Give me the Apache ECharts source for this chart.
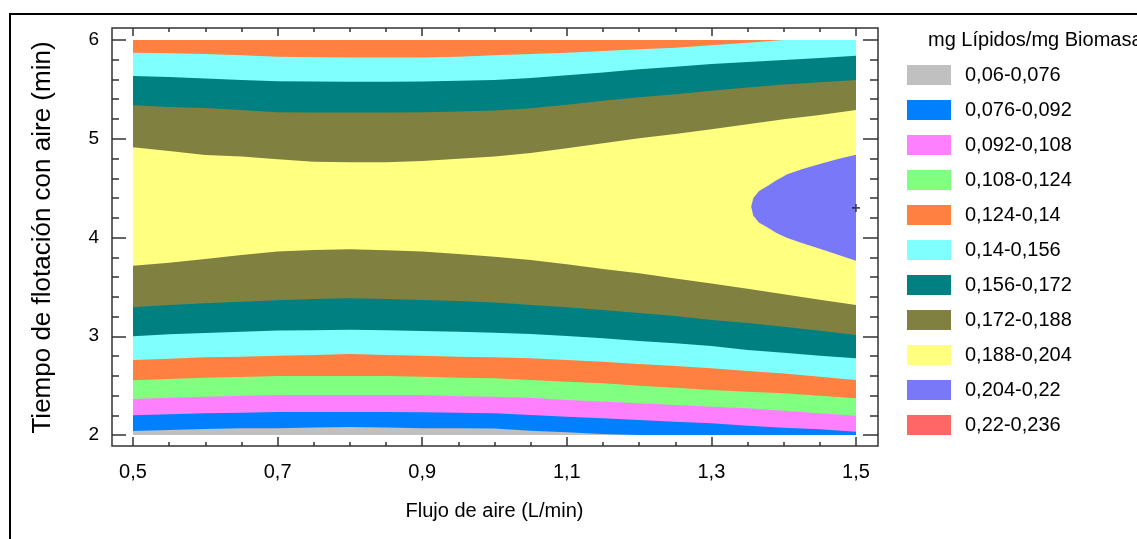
<!DOCTYPE html>
<html>
<head>
<meta charset="utf-8">
<script src="https://cdn.jsdelivr.net/npm/echarts@6/dist/echarts.min.js"></script>
<style>
  html, body { margin: 0; padding: 0; background: #fff; }
  #chart { width: 1137px; height: 539px; }
</style>
</head>
<body>
<div id="chart"></div>
<script>
// Flujo de aire (L/min): columnas donde se leyeron los contornos
const flujo = [0.5, 0.55, 0.6, 0.65, 0.7, 0.75, 0.8, 0.85, 0.9, 0.95, 1.0,
  1.05, 1.1, 1.15, 1.2, 1.25, 1.3, 1.35, 1.4, 1.45, 1.5];

// contornos (tiempo, min); "sup" = mitad superior, "inf" = mitad inferior
const c140sup = [5.872, 5.866, 5.858, 5.845, 5.831, 5.826, 5.824, 5.824, 5.824, 5.831, 5.845,
  5.858, 5.872, 5.889, 5.906, 5.922, 5.946, 5.973, 6.0, 6.03, 6.06];
const c156sup = [5.635, 5.625, 5.61, 5.595, 5.582, 5.58, 5.578, 5.578, 5.58, 5.588, 5.595,
  5.615, 5.643, 5.672, 5.703, 5.73, 5.757, 5.777, 5.797, 5.818, 5.841];
const c172sup = [5.338, 5.322, 5.311, 5.291, 5.268, 5.265, 5.265, 5.265, 5.268, 5.275, 5.285,
  5.31, 5.345, 5.385, 5.42, 5.45, 5.485, 5.52, 5.55, 5.572, 5.595];
const c188sup = [4.913, 4.876, 4.835, 4.819, 4.792, 4.768, 4.761, 4.761, 4.775, 4.798, 4.82,
  4.855, 4.903, 4.954, 5.004, 5.048, 5.095, 5.146, 5.197, 5.241, 5.291];
const c188inf = [3.715, 3.745, 3.782, 3.823, 3.857, 3.873, 3.88, 3.87, 3.857, 3.833, 3.806,
  3.772, 3.728, 3.681, 3.637, 3.585, 3.535, 3.48, 3.425, 3.37, 3.316];
const c172inf = [3.293, 3.316, 3.333, 3.35, 3.364, 3.377, 3.384, 3.377, 3.367, 3.357, 3.343,
  3.316, 3.293, 3.266, 3.235, 3.205, 3.165, 3.134, 3.097, 3.055, 3.013];
const c156inf = [2.999, 3.019, 3.033, 3.046, 3.057, 3.06, 3.067, 3.06, 3.053, 3.046, 3.036,
  3.023, 3.003, 2.979, 2.952, 2.928, 2.901, 2.861, 2.834, 2.803, 2.776];
const c140inf = [2.759, 2.773, 2.787, 2.793, 2.803, 2.81, 2.82, 2.81, 2.803, 2.793, 2.787,
  2.776, 2.759, 2.743, 2.719, 2.699, 2.675, 2.648, 2.624, 2.591, 2.557];
const c124inf = [2.554, 2.567, 2.581, 2.587, 2.597, 2.597, 2.597, 2.597, 2.591, 2.581, 2.574,
  2.557, 2.54, 2.523, 2.5, 2.479, 2.456, 2.439, 2.422, 2.398, 2.371];
const c108inf = [2.365, 2.378, 2.388, 2.398, 2.405, 2.405, 2.405, 2.405, 2.405, 2.392, 2.388,
  2.378, 2.354, 2.338, 2.321, 2.304, 2.287, 2.27, 2.246, 2.219, 2.196];
const c092inf = [2.199, 2.209, 2.219, 2.226, 2.233, 2.233, 2.233, 2.233, 2.23, 2.226, 2.219,
  2.203, 2.186, 2.169, 2.152, 2.135, 2.118, 2.094, 2.074, 2.057, 2.034];
const c076inf = [2.04, 2.051, 2.06, 2.068, 2.068, 2.075, 2.081, 2.075, 2.068, 2.068, 2.065,
  2.044, 2.027, 2.01, 2.0, 2.0, 2.0, 2.0, 2.0, 2.0, 2.0];

// zona 0,204-0,22 (lado derecho)
const ovaloX = [1.355, 1.358, 1.366, 1.376, 1.39, 1.405, 1.425, 1.45, 1.475, 1.5];
const ovaloSup = [4.312, 4.40, 4.47, 4.515, 4.58, 4.64, 4.69, 4.745, 4.795, 4.838];
const ovaloInf = [4.312, 4.22, 4.15, 4.11, 4.045, 3.995, 3.945, 3.885, 3.825, 3.765];

// punto optimo marcado con +
const optimo = [1.5, 4.30];

const rangos = ['0,06-0,076', '0,076-0,092', '0,092-0,108', '0,108-0,124', '0,124-0,14',
  '0,14-0,156', '0,156-0,172', '0,172-0,188', '0,188-0,204', '0,204-0,22', '0,22-0,236'];
const colores = ['#C0C0C0', '#0080FF', '#FF80FF', '#80FF80', '#FF8040',
  '#80FFFF', '#008080', '#808040', '#FFFF80', '#7878F8', '#FF6666'];

const FONT = '"Liberation Sans", Arial, sans-serif';
const coma = (v) => String(+v.toFixed(2)).replace('.', ',');

// relleno desde el contorno hacia abajo; cada serie tapa a la anterior
function banda(k, xs, ys) {
  return {
    type: 'line',
    name: rangos[k],
    data: xs.map((x, i) => [x, ys[i]]),
    symbol: 'none',
    silent: true,
    color: colores[k],
    lineStyle: { width: 0 },
    areaStyle: { color: colores[k], opacity: 1, origin: 'start' },
  };
}

const chart = echarts.init(document.getElementById('chart'));

const tickStyle = { color: '#333', width: 1.5 };
chart.setOption({
  animation: false,
  grid: {
    left: 133, right: 281, top: 40, bottom: 104,
    show: true, backgroundColor: colores[4], borderWidth: 0,
  },
  title: {
    text: 'mg Lípidos/mg Biomasa',
    left: 928, top: 30, padding: 0,
    textStyle: { fontFamily: FONT, fontSize: 20, fontWeight: 'normal', color: '#000' },
  },
  legend: {
    orient: 'vertical',
    left: 907, top: 65, padding: 0,
    icon: 'rect', itemWidth: 44, itemHeight: 20, itemGap: 15,
    selectedMode: false,
    data: rangos.map((r, k) => ({ name: r, itemStyle: { color: colores[k] } })),
    textStyle: { fontFamily: FONT, fontSize: 20, color: '#000', padding: [0, 0, 0, 9] },
  },
  xAxis: [{
    type: 'value', position: 'bottom', min: 0.5, max: 1.5, interval: 0.2, offset: 11,
    axisLine: { show: false }, splitLine: { show: false },
    axisTick: { inside: true, length: 9, lineStyle: tickStyle },
    minorTick: { show: true, splitNumber: 4, length: 4, lineStyle: tickStyle },
    axisLabel: { formatter: coma, margin: 16, fontFamily: FONT, fontSize: 20, color: '#000' },
    name: 'Flujo de aire (L/min)', nameLocation: 'middle', nameGap: 55,
    nameTextStyle: { fontFamily: FONT, fontSize: 20, color: '#000' },
  }, {
    type: 'value', position: 'top', min: 0.5, max: 1.5, interval: 0.2, offset: 12,
    axisLine: { show: false }, splitLine: { show: false }, axisLabel: { show: false },
    axisTick: { inside: true, length: 8, lineStyle: tickStyle },
    minorTick: { show: true, splitNumber: 4, length: 4, lineStyle: tickStyle },
  }],
  yAxis: [{
    type: 'value', position: 'left', min: 2, max: 6, interval: 1, offset: 21,
    axisLine: { show: false }, splitLine: { show: false },
    axisTick: { inside: true, length: 14, lineStyle: tickStyle },
    minorTick: { show: true, splitNumber: 5, length: 7, lineStyle: tickStyle },
    axisLabel: { margin: 13, fontFamily: FONT, fontSize: 19, color: '#000' },
    name: 'Tiempo de flotación con aire (min)', nameLocation: 'middle', nameGap: 56,
    nameTextStyle: { fontFamily: FONT, fontSize: 26, color: '#000' },
  }, {
    type: 'value', position: 'right', min: 2, max: 6, interval: 1, offset: 22,
    axisLine: { show: false }, splitLine: { show: false }, axisLabel: { show: false },
    axisTick: { inside: true, length: 15, lineStyle: tickStyle },
    minorTick: { show: true, splitNumber: 5, length: 8, lineStyle: tickStyle },
  }],
  series: [
    banda(5, flujo, c140sup),
    banda(6, flujo, c156sup),
    banda(7, flujo, c172sup),
    banda(8, flujo, c188sup),
    banda(7, flujo, c188inf),
    banda(6, flujo, c172inf),
    banda(5, flujo, c156inf),
    banda(4, flujo, c140inf),
    banda(3, flujo, c124inf),
    banda(2, flujo, c108inf),
    banda(1, flujo, c092inf),
    banda(0, flujo, c076inf),
    {
      // zona cerrada: contorno superior y vuelta por el inferior
      type: 'custom', name: rangos[9], silent: true,
      coordinateSystem: 'cartesian2d', xAxisIndex: 0, yAxisIndex: 0,
      z: 4, clip: true,
      data: [[ovaloX[0], ovaloSup[0]]],
      renderItem: (params, api) => {
        const pts = ovaloX.map((x, i) => api.coord([x, ovaloSup[i]]));
        for (let i = ovaloX.length - 1; i >= 0; i--) pts.push(api.coord([ovaloX[i], ovaloInf[i]]));
        return { type: 'polygon', shape: { points: pts }, style: { fill: colores[9] } };
      },
    },
    { type: 'line', name: rangos[10], color: colores[10], data: [] },
    {
      type: 'scatter', name: 'optimo', data: [optimo], silent: true,
      symbol: 'path://M4,0H6V4H10V6H6V10H4V6H0V4H4Z', symbolSize: 8,
      itemStyle: { color: '#222' }, z: 5,
    },
  ],
  graphic: [{
    type: 'polyline', silent: true,
    shape: { points: [[10, 539], [10, 14], [1137, 14]] },
    style: { stroke: '#000', lineWidth: 2, fill: null },
  }, {
    type: 'rect', silent: true,
    shape: { x: 112, y: 28, width: 766, height: 418 },
    style: { stroke: '#333', lineWidth: 1.5, fill: null },
  }],
});
</script>
</body>
</html>
